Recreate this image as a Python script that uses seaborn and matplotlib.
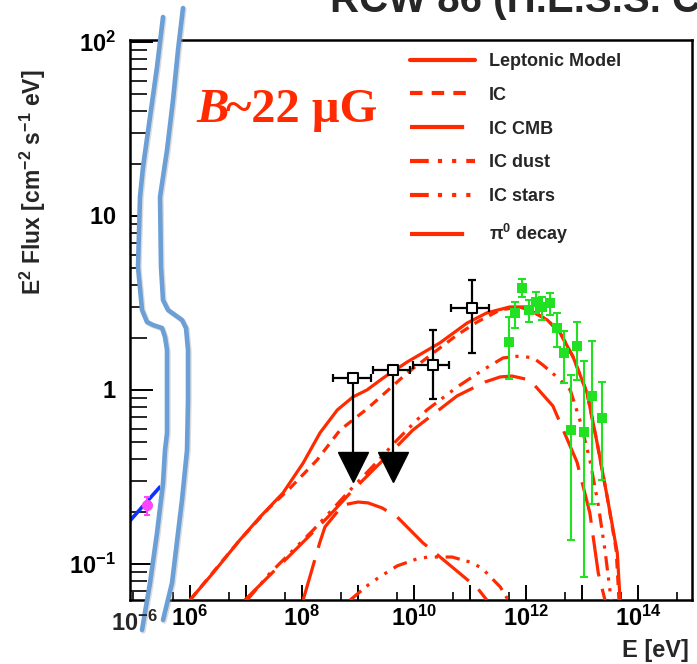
import numpy as np
import pandas as pd
import matplotlib
matplotlib.use("Agg")
import matplotlib.pyplot as plt
import seaborn as sns
from matplotlib.lines import Line2D
from matplotlib.ticker import FixedLocator, FixedFormatter, NullLocator, NullFormatter

# ---------------- data (log10 E [eV], log10 E^2 F) ----------------
lep_logE = [6.00, 6.41, 6.89, 7.25, 7.66, 8.02, 8.32, 8.63, 8.91, 9.16, 9.45, 9.88, 10.46, 10.95,
            11.30, 11.71, 11.98, 12.13, 12.38, 12.61, 12.84, 13.09, 13.27, 13.45, 13.63, 13.68]
lep_logF = [-1.207, -1.052, -0.862, -0.730, -0.592, -0.420, -0.247, -0.115, -0.040, 0.000, 0.069,
            0.161, 0.270, 0.385, 0.443, 0.477, 0.477, 0.448, 0.402, 0.328, 0.190, -0.017, -0.305,
            -0.615, -0.937, -1.207]

ic_logE = [6.00, 6.89, 7.43, 7.79, 8.27, 8.68, 9.16, 9.52, 9.88, 10.46, 10.77, 11.13, 11.54, 11.89,
           12.13, 12.38, 12.61, 12.84, 13.09, 13.27, 13.45, 13.61, 13.66]
ic_logF = [-1.207, -0.862, -0.672, -0.563, -0.402, -0.230, -0.109, -0.006, 0.098, 0.241, 0.316,
           0.391, 0.460, 0.477, 0.448, 0.402, 0.328, 0.190, -0.017, -0.305, -0.615, -0.920, -1.207]

cmb_logE = [6.98, 7.43, 7.79, 8.20, 8.50, 8.86, 9.27, 9.70, 9.98, 10.77, 11.27, 11.54, 11.75, 12.07,
            12.48, 12.91, 13.14, 13.29, 13.41]
cmb_logF = [-1.207, -1.063, -0.948, -0.816, -0.718, -0.592, -0.460, -0.322, -0.230, -0.034, 0.046,
            0.075, 0.080, 0.057, -0.092, -0.414, -0.707, -1.052, -1.207]

dust_logE = [7.02, 7.43, 7.79, 8.20, 8.50, 8.86, 9.27, 9.70, 10.23, 10.77, 11.23, 11.59, 11.89,
             12.13, 12.30, 12.55, 12.79, 12.96, 13.14, 13.29, 13.41, 13.52]
dust_logF = [-1.207, -1.052, -0.937, -0.805, -0.701, -0.575, -0.437, -0.287, -0.115, 0.017, 0.115,
             0.184, 0.195, 0.184, 0.144, 0.075, 0.000, -0.172, -0.402, -0.661, -0.920, -1.207]

stars_logE = [8.86, 9.18, 9.36, 9.70, 10.05, 10.25, 10.68, 11.00, 11.21, 11.54, 11.68]
stars_logF = [-1.207, -1.121, -1.080, -1.011, -0.971, -0.960, -0.960, -0.989, -1.023, -1.132, -1.207]

pi0_logE = [8.02, 8.32, 8.41, 8.73, 9.00, 9.18, 9.43, 9.70, 10.16, 10.38, 11.13, 11.30]
pi0_logF = [-1.207, -0.874, -0.787, -0.661, -0.644, -0.649, -0.678, -0.730, -0.879, -0.937,
            -1.138, -1.207]

# Fermi-LAT points (E in log10 eV, flux linear)
fermi_logE = [8.91, 9.63, 10.34, 11.04]
fermi_logE_lo = [8.55, 9.27, 9.98, 10.66]
fermi_logE_hi = [9.23, 9.93, 10.63, 11.34]
fermi_F = [1.17, 1.30, 1.39, 2.96]
fermi_F_lo = [np.nan, np.nan, 0.887, 1.63]
fermi_F_hi = [np.nan, np.nan, 2.21, 4.29]
fermi_ul = [True, True, False, False]
ul_arrow_F = 0.363

# H.E.S.S. points
hess_logE = [11.70, 11.80, 11.93, 12.05, 12.18, 12.29, 12.43, 12.55, 12.68, 12.80, 12.91, 13.04,
             13.18, 13.36]
hess_F = [1.89, 2.77, 3.86, 2.88, 3.20, 3.00, 3.16, 2.27, 1.63, 0.589, 1.79, 0.574, 0.924, 0.690]
hess_F_lo = [1.16, 2.27, 3.42, 2.46, 2.77, 2.53, 2.70, 1.77, 1.10, 0.137, 1.14, 0.084, 0.221, 0.304]
hess_F_hi = [2.63, 3.20, 4.34, 3.29, 3.66, 3.42, 3.61, 2.77, 2.18, 1.22, 2.46, 1.47, 1.91, 1.11]

# low-energy (left of axis break) data
xray_logE = [-6.09, -5.52]
xray_F = [0.172, 0.277]
radio_logE = [-5.75]
radio_F = [0.218]
radio_F_lo = [0.191]
radio_F_hi = [0.243]

x_tick_exps = [5, 6, 7, 8, 9, 10, 11, 12, 13, 14, 15]
x_label_exps = [6, 8, 10, 12, 14]
y_tick_vals = [0.1, 1, 10, 100]
y_tick_labels = [r"$\mathbf{10^{-1}}$", r"$\mathbf{1}$", r"$\mathbf{10}$", r"$\mathbf{10^{2}}$"]

legend_labels = ["Leptonic Model", "IC", "IC CMB", "IC dust", "IC stars", "π$^{\\mathbf{0}}$ decay"]

# ---------------- style ----------------
sns.set_theme(style="ticks")
plt.rcParams["font.family"] = ["Liberation Sans", "DejaVu Sans"]
plt.rcParams["mathtext.fontset"] = "custom"
plt.rcParams["mathtext.rm"] = "Liberation Sans"
plt.rcParams["mathtext.bf"] = "Liberation Sans:bold"
plt.rcParams["mathtext.it"] = "Liberation Sans:italic"

RED = "#ff2a00"
GREEN = "#22e022"
BLUEBRK = "#6c9fd6"
LW = 2.3

styles = {
    "Leptonic Model": "-",
    "IC": (0, (3.0, 2.2)),
    "IC CMB": (0, (13, 4)),
    "IC dust": (0, (4.5, 2.2, 1, 2.4, 1, 2.4)),
    "IC stars": (0, (4.5, 2.2, 1, 2.4, 1, 2.4, 1, 2.4)),
    "π$^{\\mathbf{0}}$ decay": (0, (13, 4)),
}

W, H = 697, 664
fig = plt.figure(figsize=(W / 100, H / 100), dpi=100)


def fx(px):
    return px / W


def fy(py):
    return 1 - py / H


ax_top, ax_bot = 40, 600
ax0 = fig.add_axes([fx(130), fy(ax_bot), (160 - 130) / W, (ax_bot - ax_top) / H])
ax1 = fig.add_axes([fx(160), fy(ax_bot), (692 - 160) / W, (ax_bot - ax_top) / H])

for ax in (ax0, ax1):
    ax.set_xscale("log")
    ax.set_yscale("log")
    ax.set_ylim(10 ** -1.207, 10 ** 2.011)
    for s in ax.spines.values():
        s.set_linewidth(1.8)
        s.set_color("black")
    ax.set_facecolor("white")

ax0.spines["right"].set_visible(False)
ax1.spines["left"].set_visible(False)
ax0.set_xlim(10 ** -6.054, 10 ** -5.518)
ax1.set_xlim(10 ** 5.464, 10 ** 14.964)

# ---------------- model curves ----------------
curves = [
    ("Leptonic Model", lep_logE, lep_logF),
    ("IC", ic_logE, ic_logF),
    ("IC CMB", cmb_logE, cmb_logF),
    ("IC dust", dust_logE, dust_logF),
    ("IC stars", stars_logE, stars_logF),
    ("π$^{\\mathbf{0}}$ decay", pi0_logE, pi0_logF),
]
for name, le, lf in curves:
    df = pd.DataFrame({"E": 10 ** np.array(le), "F": 10 ** np.array(lf)})
    sns.lineplot(data=df, x="E", y="F", ax=ax1, color=RED, linewidth=LW,
                 linestyle=styles[name], sort=False, estimator=None, legend=False,
                 zorder=3)

# ---------------- Fermi-LAT ----------------
fE = 10 ** np.array(fermi_logE)
fE_lo = 10 ** np.array(fermi_logE_lo)
fE_hi = 10 ** np.array(fermi_logE_hi)
fF = np.array(fermi_F)
xerr = np.vstack([fE - fE_lo, fE_hi - fE])
ax1.errorbar(fE, fF, xerr=xerr, fmt="none", ecolor="black", elinewidth=1.6,
             capsize=3, capthick=1.6, zorder=5)
det = ~np.array(fermi_ul)
yerr = np.vstack([fF[det] - np.array(fermi_F_lo)[det], np.array(fermi_F_hi)[det] - fF[det]])
ax1.errorbar(fE[det], fF[det], yerr=yerr, fmt="none", ecolor="black", elinewidth=1.6,
             capsize=3, capthick=1.6, zorder=5)
for e, f, ul in zip(fE, fF, fermi_ul):
    if ul:
        ax1.plot([e, e], [f, ul_arrow_F], color="black", lw=1.6, zorder=5)
        ax1.plot([e], [ul_arrow_F], marker="v", ms=21, color="black", mec="black",
                 linestyle="none", zorder=5)
sns.scatterplot(x=fE, y=fF, ax=ax1, marker="s", s=52, facecolor="white",
                edgecolor="black", linewidth=1.5, zorder=6, legend=False)

# ---------------- H.E.S.S. ----------------
hE = 10 ** np.array(hess_logE)
hF = np.array(hess_F)
hyerr = np.vstack([hF - np.array(hess_F_lo), np.array(hess_F_hi) - hF])
ax1.errorbar(hE, hF, yerr=hyerr, fmt="none", ecolor=GREEN, elinewidth=1.5,
             capsize=3, capthick=1.5, zorder=4)
sns.scatterplot(x=hE, y=hF, ax=ax1, marker="s", s=60, color=GREEN, edgecolor=GREEN,
                linewidth=0, zorder=4, legend=False)

# ---------------- left (below break) data ----------------
sns.lineplot(x=10 ** np.array(xray_logE), y=xray_F, ax=ax0, color="#1030ff", linewidth=2.6,
             sort=False, estimator=None, legend=False)
rE = 10 ** np.array(radio_logE)
rF = np.array(radio_F)
ax0.errorbar(rE, rF, yerr=np.vstack([rF - np.array(radio_F_lo), np.array(radio_F_hi) - rF]),
             fmt="o", color="#ff44ff", ms=7, elinewidth=1.4, capsize=2.5, capthick=1.4, zorder=5)

# ---------------- ticks ----------------
ax1.xaxis.set_major_locator(FixedLocator([10.0 ** k for k in x_tick_exps]))
ax1.xaxis.set_major_formatter(FixedFormatter(
    [r"$\mathbf{10^{%d}}$" % k if k in x_label_exps else "" for k in x_tick_exps]))
ax1.xaxis.set_minor_locator(FixedLocator([5 * 10.0 ** k for k in x_tick_exps]))
ax1.xaxis.set_minor_formatter(NullFormatter())
ax1.tick_params(axis="x", which="major", direction="in", length=10.5, width=1.4,
                labelsize=17, pad=4, top=False, bottom=True, colors="black")
ax1.tick_params(axis="x", which="minor", direction="in", length=5.5, width=1.4,
                top=False, bottom=True)
ax1.yaxis.set_major_locator(NullLocator())
ax1.yaxis.set_minor_locator(NullLocator())
ax1.tick_params(axis="y", which="both", left=False, right=False, labelleft=False)

ax0.xaxis.set_major_locator(FixedLocator([1e-6]))
ax0.xaxis.set_minor_locator(NullLocator())
ax0.tick_params(axis="x", which="major", direction="in", length=7, width=1.4,
                labelbottom=False, top=False)
ax0.yaxis.set_major_locator(FixedLocator(y_tick_vals))
ax0.yaxis.set_major_formatter(FixedFormatter(y_tick_labels))
ax0.yaxis.set_minor_locator(FixedLocator([m * 10.0 ** d for d in (-2, -1, 0, 1) for m in range(2, 10)]))
ax0.yaxis.set_minor_formatter(NullFormatter())
ax0.tick_params(axis="y", which="major", direction="in", length=16.5, width=1.4,
                labelsize=17, pad=10, right=False, colors="black")
ax0.tick_params(axis="y", which="minor", direction="in", length=12.5, width=1.4, right=False)

for ax in (ax0, ax1):
    ax.set_xlabel("")
    ax.set_ylabel("")

# ---------------- legend ----------------
handles = [Line2D([0], [0], color=RED, lw=3.0, linestyle=styles[n]) for n in legend_labels]
ax1.legend(handles, legend_labels, loc="upper left", bbox_to_anchor=(fx(410), fy(53)),
           bbox_transform=fig.transFigure, frameon=False, handlelength=3.6,
           handletextpad=0.78, labelspacing=0.93, borderpad=0, borderaxespad=0,
           prop={"weight": "bold", "size": 13})

# ---------------- axis break overlay ----------------
brk_left_x = [163, 157, 150, 143, 140, 138, 142, 147, 153, 162, 165, 167, 167, 167, 165, 163, 157, 150, 142]
brk_left_y = [17, 67, 117, 167, 197, 267, 310, 322, 325, 328, 337, 350, 400, 433, 450, 483, 533, 583, 630]
brk_right_x = [183, 178, 173, 167, 160, 161, 163, 168, 175, 182, 186, 188, 188, 187, 182, 178, 172, 163]
brk_right_y = [8, 50, 100, 150, 197, 267, 300, 310, 315, 320, 328, 350, 400, 450, 500, 533, 583, 620]

ax_ov = fig.add_axes([0, 0, 1, 1], zorder=5)
ax_ov.set_xlim(0, W)
ax_ov.set_ylim(H, 0)
ax_ov.axis("off")
ax_ov.patch.set_alpha(0)
ax_ov.fill(brk_left_x + brk_right_x[::-1], brk_left_y + brk_right_y[::-1], color="white", lw=0)
for bx, by in ((brk_left_x, brk_left_y), (brk_right_x, brk_right_y)):
    ax_ov.plot(np.array(bx) + 1.2, np.array(by) + 1.2, color="#999999", lw=3.6, alpha=0.35,
               solid_capstyle="round")
    ax_ov.plot(bx, by, color=BLUEBRK, lw=3.3, solid_capstyle="round")

# ---------------- texts ----------------
fig.text(fx(134), fy(623), r"$\mathbf{10^{-6}}$", ha="center", va="center", fontsize=17, zorder=10)
fig.text(fx(33), fy(182), r"E$^{\mathbf{2}}$ Flux [cm$^{\mathbf{-2}}$ s$^{\mathbf{-1}}$ eV]",
         rotation=90, ha="center", va="center", fontsize=16.5, fontweight="bold", zorder=10)
fig.text(fx(689), fy(650), "E [eV]", ha="right", va="center", fontsize=17, fontweight="bold",
         zorder=10)
fig.text(fx(330), fy(12), "RCW 86 (H.E.S.S. Collaboration)", ha="left", va="baseline",
         fontsize=29, fontweight="bold", zorder=10)
fig.text(fx(196), fy(122), "B", ha="left", va="baseline", fontsize=35, fontweight="bold",
         fontstyle="italic", family=["Liberation Serif", "DejaVu Serif"], color=RED, zorder=10)
fig.text(fx(226), fy(122), "~22 μG", ha="left", va="baseline", fontsize=35, fontweight="bold",
         family=["Liberation Serif", "DejaVu Serif"], color=RED, zorder=10)

fig.savefig("out.png", dpi=100, facecolor="white")
